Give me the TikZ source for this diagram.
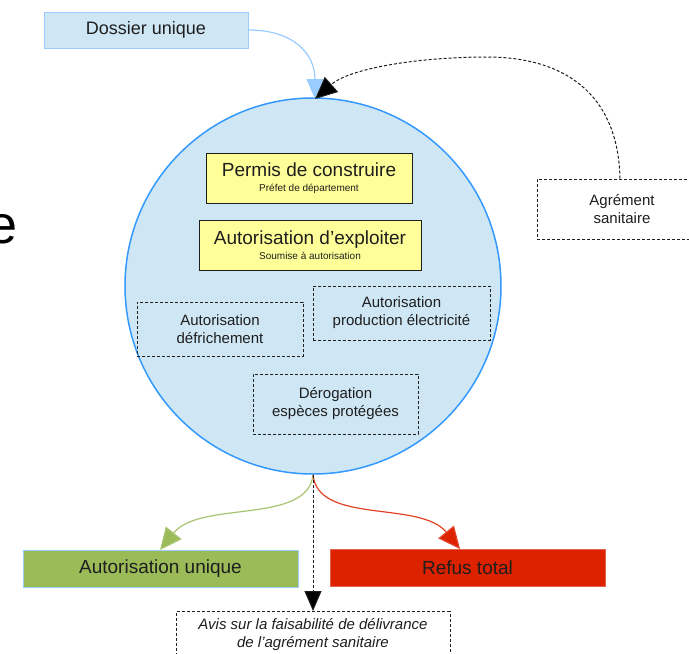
\documentclass[tikz,border=0pt]{standalone}
\usepackage{fontspec}
\setmainfont{Liberation Sans}
\usetikzlibrary{arrows.meta}
\definecolor{cfill}{RGB}{207,231,245}
\definecolor{cborder}{RGB}{51,153,255}
\definecolor{dborder}{RGB}{153,204,255}
\definecolor{yfill}{RGB}{255,255,153}
\definecolor{gfill}{RGB}{155,187,89}
\definecolor{rfill}{RGB}{221,34,0}
\definecolor{darktxt}{RGB}{30,30,30}
\tikzset{
  solidbox/.style={draw=darktxt, line width=1pt, fill=yfill, align=center, inner sep=0pt, text=darktxt, font=\fontsize{10}{15}\selectfont},
  dashbox/.style={draw=darktxt, line width=1pt, dash pattern=on 3pt off 2pt, align=center, inner sep=0pt, text=darktxt, font=\fontsize{15}{18}\selectfont},
  dashline/.style={draw=darktxt, line width=1pt, dash pattern=on 3pt off 2pt},
}
\begin{document}
\begin{tikzpicture}[x=1pt,y=-1pt]
\useasboundingbox (0,0) rectangle (689,654);
\clip (0,0) rectangle (689,654);
\fill[white] (0,0) rectangle (689,654);
% stray big letter
\node[anchor=base east, inner sep=0pt, font=\fontsize{54}{60}\selectfont] (bige) at (18,243) {e};
% big circle
\node[draw=cborder, line width=1.5pt, fill=cfill, circle, minimum size=376pt, inner sep=0pt] (circ) at (313,286) {};
% top box
\node[draw=dborder, line width=1pt, fill=cfill, minimum width=204pt, minimum height=36pt, inner sep=0pt, text=darktxt, font=\fontsize{18}{20}\selectfont] (dossier) at (146,30) {Dossier unique};
% yellow boxes
\node[solidbox, minimum width=206pt, minimum height=50pt] (permis) at (309,178) {{\fontsize{19}{21}\selectfont Permis de construire}\\Préfet de département};
\node[solidbox, minimum width=222pt, minimum height=50pt] (exploit) at (310,245) {{\fontsize{19}{21}\selectfont Autorisation d'exploiter}\\Soumise à autorisation};
% dashed boxes
\node[dashbox, minimum width=166pt, minimum height=54pt] (defrich) at (220,329) {Autorisation\\défrichement};
\node[dashbox, minimum width=177pt, minimum height=54pt] (prod) at (401.5,313) {Autorisation\\production électricité};
\node[dashbox, minimum width=165pt, minimum height=60pt] (derog) at (335.5,404) {Dérogation\\espèces protégées};
\node[dashbox, fill=white, minimum width=170pt, minimum height=60pt] (agrement) at (622,209) {Agrément\\sanitaire};
\coordinate (agtext) at (620,179);
% bottom boxes
\node[draw=dborder, line width=1pt, fill=gfill, minimum width=275pt, minimum height=37pt, inner sep=0pt, text=darktxt, font=\fontsize{19}{21}\selectfont] (ok) at (160.5,568.5) {Autorisation unique};
\node[draw=rfill!70!white, line width=1pt, fill=rfill, minimum width=275pt, minimum height=37pt, inner sep=0pt, text=darktxt, font=\fontsize{19}{21}\selectfont] (refus) at (467.5,567.5) {Refus total};
\node[dashbox, fill=white, minimum width=274pt, minimum height=46pt, font=\fontsize{15}{18}\selectfont\itshape, anchor=north] (avis) at (313,611) {Avis sur la faisabilité de délivrance\\de l'agrément sanitaire};
% connectors
\coordinate (ctop) at (315,99);
\coordinate (oktip) at (160,550);
\coordinate (reftip) at (460,549);
\draw[dborder, line width=1.2pt, -{Triangle[length=20pt,width=17pt]}] (dossier.east) .. controls (295,30) and (315,55) .. (ctop);
\draw[dashline, -{Triangle[length=22pt,width=20pt,fill=black]}] (agrement.north -| agtext) .. controls (618,90) and (560,57) .. (487,57) .. controls (420,57) and (350,68) .. (ctop);
\draw[gfill!85!white, line width=1.2pt, -{Triangle[length=22pt,width=20pt,fill=gfill]}] (circ.south) .. controls (308,525) and (200,500) .. (oktip);
\draw[rfill!85!white, line width=1.2pt, -{Triangle[length=22pt,width=20pt,fill=rfill]}] (circ.south) .. controls (318,525) and (420,500) .. (reftip);
\draw[dashline, -{Triangle[length=20pt,width=17pt,fill=black]}] (circ.south) -- (avis.north);
\end{tikzpicture}
\end{document}
